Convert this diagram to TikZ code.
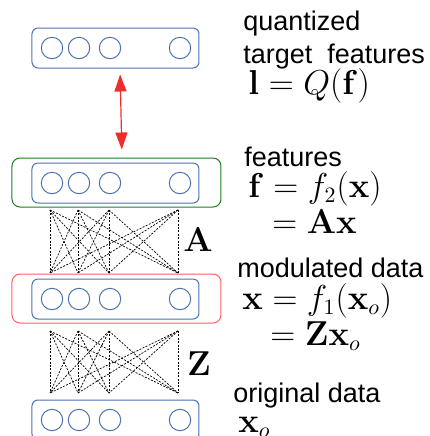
\documentclass[tikz,border=0pt]{standalone}
\usepackage[no-math]{fontspec}
\setmainfont{Liberation Sans}
\usetikzlibrary{arrows.meta}
\definecolor{boxblue}{RGB}{76,114,176}
\definecolor{featgreen}{RGB}{30,125,30}
\definecolor{modred}{RGB}{255,95,95}
\definecolor{arrred}{RGB}{240,45,45}

\begin{document}
\begin{tikzpicture}[x=0.5pt,y=-0.5pt,
  vec/.style={draw=boxblue,line width=0.5pt,rounded corners=3pt,
    minimum width=83.5pt,minimum height=20pt,inner sep=0pt},
  unit/.style={draw=boxblue,line width=0.5pt,circle,minimum size=10.7pt,inner sep=0pt},
  frame/.style={line width=0.5pt,rounded corners=4pt,
    minimum width=104.5pt,minimum height=24.5pt,inner sep=0pt},
  wire/.style={line width=0.35pt,dash pattern=on 1pt off 0.7pt},
  link/.style={arrred,line width=0.6pt,{Triangle[width=6pt,length=8.5pt]}-{Triangle[width=6pt,length=8.5pt]}},
  txt/.style={anchor=base west,inner sep=0pt,font=\fontsize{13.5}{16}\selectfont},
  eqn/.style={anchor=base west,inner sep=0pt,font=\fontsize{16}{19}\selectfont},
  mat/.style={font=\fontsize{17}{20}\selectfont,inner sep=0pt}]
  \useasboundingbox (0,0) rectangle (430,436);

  % coloured frames round the layers
  \node[frame,draw=featgreen] (fbox) at (116.5,182.5) {};
  \node[frame,draw=modred] (xbox) at (116.5,298.5) {};

  % vectors with their units
  \foreach \lay/\yy in {q/48,f/183,x/299,o/420} {
    \node[vec] (\lay) at (115.5,\yy) {};
    \foreach \i/\xx in {1/52,2/79,3/110,4/180}
      \node[unit] (\lay\i) at (\xx,\yy) {};
  }

  % fully connected layers
  \foreach \i/\xx in {1/50,2/78,3/109,4/178} {
    \coordinate (at\i) at (\xx,210);
    \coordinate (ab\i) at (\xx,273);
    \coordinate (zt\i) at (\xx,331);
    \coordinate (zb\i) at (\xx,393);
  }
  \foreach \i in {1,...,4}
    \foreach \j in {1,...,4} {
      \draw[wire] (at\i) -- (ab\j);
      \draw[wire] (zt\i) -- (zb\j);
    }
  \node[mat] (A) at (198,240) {$\mathbf{A}$};
  \node[mat] (Z) at (199,364) {$\mathbf{Z}$};

  % quantization
  \draw[link,shorten <=3pt,shorten >=4pt] ([xshift=2.25pt]q.south) -- ([xshift=2.75pt]fbox.north);

  % labels
  \node[txt] (t1) at (243,30) {quantized};
  \node[txt] (t2) at (243,63) {target\ \ features};
  \node[eqn] (t3) at (248,94) {$\mathbf{l}=Q(\mathbf{f})$};
  \node[txt] (t4) at (244,166) {features};
  \node[eqn] (t5) at (248,197) {$\mathbf{f}=f_2(\mathbf{x})$};
  \node[eqn] (t6) at (272,233) {$=\mathbf{A}\mathbf{x}$};
  \node[txt] (t7) at (237,277) {modulated data};
  \node[eqn] (t8) at (242,309) {$\mathbf{x}=f_1(\mathbf{x}_o)$};
  \node[eqn] (t9) at (270,345) {$=\mathbf{Z}\mathbf{x}_o$};
  \node[txt] (t10) at (233,402) {original data};
  \node[eqn] (t11) at (238,432) {$\mathbf{x}_o$};
\end{tikzpicture}
\end{document}
